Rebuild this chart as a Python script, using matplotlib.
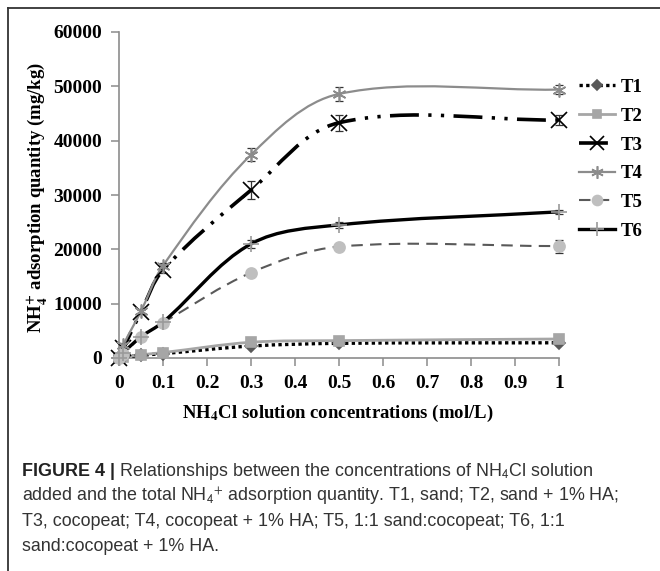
import numpy as np
import matplotlib
matplotlib.use("Agg")
import matplotlib.pyplot as plt
from matplotlib.path import Path
from matplotlib.patches import PathPatch
from matplotlib.lines import Line2D

plt.rcParams['mathtext.fontset'] = 'stix'

# concentrations of NH4Cl (mol/L)
conc = [0, 0.01, 0.05, 0.1, 0.3, 0.5, 1.0]

# NH4+ adsorption quantity (mg/kg)
t1 = [0, 150, 500, 800, 2200, 2700, 2800]
t2 = [0, 200, 600, 1000, 2900, 3200, 3500]
t3 = [0, 1800, 8500, 16200, 30900, 43300, 43800]
t4 = [0, 2400, 8600, 17000, 37400, 48600, 49400]
t5 = [0, 800, 3800, 6500, 15700, 20500, 20600]
t6 = [0, 1000, 3900, 6600, 21000, 24500, 26900]

t1_err = [0, 0, 0, 0, 200, 200, 200]
t2_err = [0, 0, 0, 0, 200, 200, 200]
t3_err = [0, 300, 400, 600, 1600, 1500, 1000]
t4_err = [0, 300, 400, 500, 1200, 1300, 900]
t5_err = [0, 0, 0, 0, 300, 400, 1200]
t6_err = [0, 0, 0, 0, 700, 600, 400]

labels = ['T1', 'T2', 'T3', 'T4', 'T5', 'T6']

X_MAX, Y_MAX = 1.0, 60000
AX_W, AX_H = 440, 326  # axes size in pixels


def smooth_path(x, y):
    """Smoothed line like Excel: cubic Bezier through every point,
    tangents weighted by segment length in screen space."""
    sx, sy = AX_W / X_MAX, AX_H / Y_MAX
    pts = np.column_stack([np.asarray(x) * sx, np.asarray(y) * sy]).astype(float)
    n = len(pts)
    verts = [pts[0]]
    codes = [Path.MOVETO]

    def ctrl(i, forward):
        p_prev = pts[max(i - 1, 0)]
        p = pts[i]
        p_next = pts[min(i + 1, n - 1)]
        d_prev = np.hypot(*(p - p_prev))
        d_next = np.hypot(*(p_next - p))
        tang = p_next - p_prev
        tot = np.hypot(*tang)
        if tot == 0:
            return p
        unit = tang / tot
        return p + unit * (d_next if forward else -d_prev) / 3.0

    for i in range(n - 1):
        verts += [ctrl(i, True), ctrl(i + 1, False), pts[i + 1]]
        codes += [Path.CURVE4] * 3
    verts = np.array(verts) / np.array([sx, sy])
    return Path(verts, codes)


fig = plt.figure(figsize=(6.6, 5.71), dpi=100)
ax = fig.add_axes([119 / 660, 1 - 358 / 571, AX_W / 660, AX_H / 571])

styles = [
    # series, err, line color, lw, dashes, marker, msize, marker color
    (t1, t1_err, 'black', 2.4, (0, (1.0, 1.0)), 'D', 6, '#595959'),
    (t2, t2_err, '#A6A6A6', 2.0, 'solid', 's', 7, '#A6A6A6'),
    (t3, t3_err, 'black', 2.6, (0, (8, 2.6, 0.9, 2.6, 0.9, 2.6)), 'x', 11, 'black'),
    (t4, t4_err, '#8C8C8C', 1.6, 'solid', (6, 2, 0), 10, '#8C8C8C'),
    (t5, t5_err, '#595959', 1.5, (0, (5.5, 3.5)), 'o', 8, '#BFBFBF'),
    (t6, t6_err, 'black', 2.4, 'solid', '+', 11, '#9A9A9A'),
]

handles = []
for (ys, err, col, lw, ls, mk, ms, mcol), lab in zip(styles, labels):
    patch = PathPatch(smooth_path(conc, ys), facecolor='none', edgecolor=col,
                      lw=lw, linestyle=ls, capstyle='butt', clip_on=False, zorder=3)
    ax.add_patch(patch)
    ax.errorbar(conc, ys, yerr=err, fmt='none', ecolor='#333333', elinewidth=0.9,
                capsize=3, capthick=0.9, clip_on=False, zorder=4)
    ax.plot(conc, ys, linestyle='none', marker=mk, markersize=ms, color=mcol,
            markeredgecolor=mcol, mew=1.2, clip_on=False, zorder=5)
    handles.append(Line2D([], [], color=col, lw=lw, linestyle=ls, marker=mk,
                          markersize=ms * 0.9, markerfacecolor=mcol,
                          markeredgecolor=mcol, mew=1.2, label=lab))

ax.set_xlim(0, X_MAX)
ax.set_ylim(0, Y_MAX)
ax.set_xticks(np.arange(0, 1.01, 0.1))
ax.set_xticklabels(['0', '0.1', '0.2', '0.3', '0.4', '0.5', '0.6', '0.7', '0.8', '0.9', '1'])
ax.set_yticks(np.arange(0, 60001, 10000))
for s in ['top', 'right']:
    ax.spines[s].set_visible(False)
for s in ['left', 'bottom']:
    ax.spines[s].set_color('#8C8C8C')
    ax.spines[s].set_linewidth(1.2)
ax.tick_params(direction='out', length=6, width=1.1, color='#8C8C8C', pad=6)
for lbl in ax.get_xticklabels() + ax.get_yticklabels():
    lbl.set_fontfamily('Liberation Serif')
    lbl.set_fontweight('bold')
    lbl.set_fontsize(14)

fig.text(338 / 660, 1 - 413 / 571, r'NH$_\mathbf{4}$Cl solution concentrations (mol/L)',
         ha='center', va='center', fontsize=13.5, fontweight='bold', family='Liberation Serif')
fig.text(38 / 660, 1 - 197 / 571, r'NH$_\mathbf{4}^\mathbf{+}$ adsorption quantity (mg/kg)',
         ha='center', va='center', rotation=90, fontsize=13.5, fontweight='bold',
         family='Liberation Serif')

leg = fig.legend(handles=handles, loc='upper left', bbox_to_anchor=(562 / 660, 1 - 62 / 571),
                 frameon=False, handlelength=1.95, handletextpad=0.3, labelspacing=0.62,
                 prop={'family': 'Liberation Serif', 'weight': 'bold', 'size': 13.5})

# frame round the figure (cropped page box)
fig.add_artist(Line2D([8 / 660, 1], [1 - 8 / 571, 1 - 8 / 571], color='#333333', lw=1.3))
fig.add_artist(Line2D([8 / 660, 8 / 660], [0, 1 - 8 / 571], color='#333333', lw=1.3))

# caption
cap_x = 22 / 660
cap_fs = 12.9
t = fig.text(cap_x, 1 - 472 / 571, 'FIGURE 4 |', ha='left', va='center', fontsize=cap_fs,
             fontweight='bold', family='Liberation Sans', color='#222222')
ax.annotate(r' Relationships between the concentrations of NH$_\mathsf{4}$Cl solution',
            xy=(1, 0.5), xycoords=t, ha='left', va='center', fontsize=cap_fs,
            family='Liberation Sans', color='#333333', annotation_clip=False)
cap_lines = [
    r'added and the total NH$_\mathsf{4}$$^\mathsf{+}$ adsorption quantity. T1, sand; T2, sand + 1% HA;',
    'T3, cocopeat; T4, cocopeat + 1% HA; T5, 1:1 sand:cocopeat; T6, 1:1',
    'sand:cocopeat + 1% HA.',
]
for i, line in enumerate(cap_lines):
    fig.text(cap_x, 1 - (497 + 24.8 * i) / 571, line, ha='left', va='center', fontsize=cap_fs,
             family='Liberation Sans', color='#333333')

fig.savefig('out.png', dpi=100)
